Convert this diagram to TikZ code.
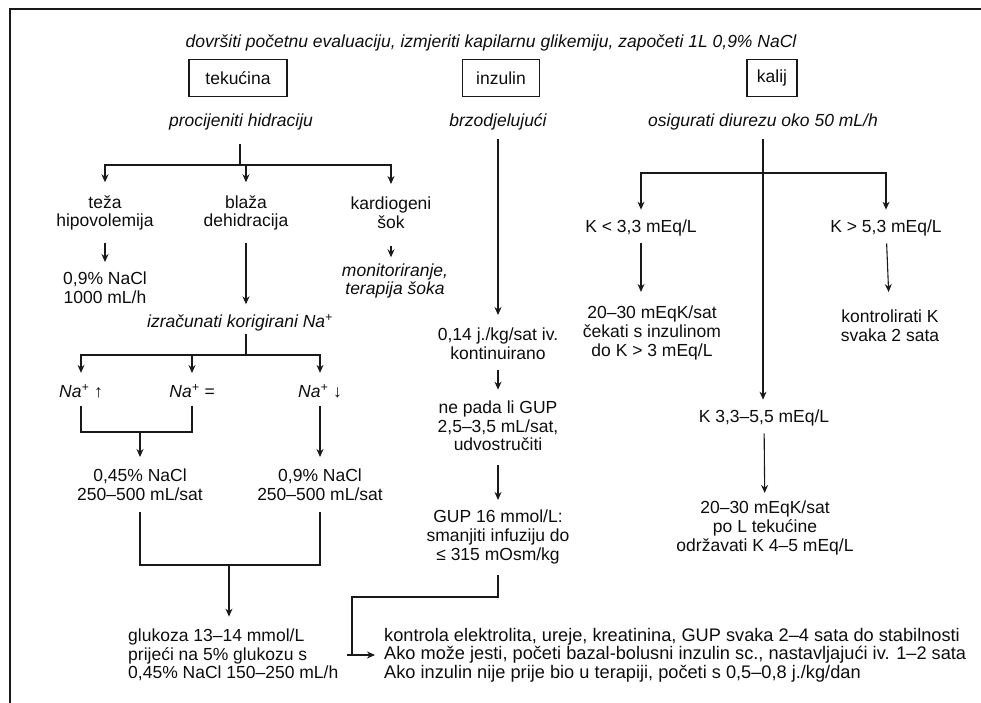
\documentclass[tikz,border=0pt]{standalone}
\usepackage{fontspec}
\setmainfont{Liberation Sans}
\usetikzlibrary{arrows.meta}

\begin{document}
\begin{tikzpicture}[x=1pt,y=-1pt,
  txt/.style={align=center,inner sep=0pt,text=black!95,font=\fontsize{17.5}{18.7}\selectfont},
  itxt/.style={txt,font=\fontsize{17.5}{18.7}\selectfont\itshape},
  box/.style={txt,draw=black!90,line width=1.5pt,minimum height=37pt},
  ln/.style={draw=black!90,line width=1.1pt},
  arr/.style={ln,-{Stealth[length=8pt,width=7pt]}}]
\useasboundingbox (0,0) rectangle (981,703);
\draw[ln] (10,703) -- (10,9) -- (981,9);

\node[itxt] (title) at (491,43) {dovršiti početnu evaluaciju, izmjeriti kapilarnu glikemiju, započeti 1L 0,9\% NaCl};
\node[box,minimum width=98pt] (tek) at (238,78) {tekućina};
\node[box,minimum width=77pt] (inz) at (501,78) {inzulin};
\node[box,minimum width=50pt] (kal) at (772,78) {kalij};
\node[itxt] (hidr) at (241,122) {procijeniti hidraciju};
\node[itxt] (brzo) at (498,122) {brzodjelujući};
\node[itxt] (diur) at (763,122) {osigurati diurezu oko 50 mL/h};

\node[txt] (teza) at (105,213) {teža\\hipovolemija};
\node[txt] (blaza) at (246,213) {blaža\\dehidracija};
\node[txt] (kard) at (391,213) {kardiogeni\\šok};
\node[txt] (fiz) at (105,288) {0,9\% NaCl\\1000 mL/h};
\node[itxt] (monit) at (395,281) {monitoriranje,\\terapija šoka};
\node[itxt] (korNa) at (240,323) {izračunati korigirani Na\textsuperscript{+}};
\node[itxt] (naU) at (81,391) {Na\textsuperscript{+} {\upshape ↑}};
\node[itxt] (naE) at (192,391) {Na\textsuperscript{+} =};
\node[itxt] (naD) at (320,391) {Na\textsuperscript{+} {\upshape ↓}};
\node[txt] (hipo) at (140,485) {0,45\% NaCl\\250–500 mL/sat};
\node[txt] (izo) at (320,485) {0,9\% NaCl\\250–500 mL/sat};
\node[txt,anchor=west,align=left] (gluk) at (128,655) {glukoza 13–14 mmol/L\\prijeći na 5\% glukozu s\\0,45\% NaCl 150–250 mL/h};

\node[txt] (kont) at (498,344) {0,14 j./kg/sat iv.\\kontinuirano};
\node[txt] (pada) at (498,426) {ne pada li GUP\\2,5–3,5 mL/sat,\\udvostručiti};
\node[txt] (gup) at (498,537) {GUP 16 mmol/L:\\smanjiti infuziju do\\≤ 315 mOsm/kg};

\node[txt] (kLo) at (641,228) {K < 3,3 mEq/L};
\node[txt] (kHi) at (886,228) {K > 5,3 mEq/L};
\node[txt] (kLoR) at (652,333) {20–30 mEqK/sat\\čekati s inzulinom\\do K > 3 mEq/L};
\node[txt] (kHiR) at (890,326) {kontrolirati K\\svaka 2 sata};
\node[txt] (kMid) at (764,418) {K 3,3–5,5 mEq/L};
\node[txt] (kMidR) at (765,528) {20–30 mEqK/sat\\po L tekućine\\održavati K 4–5 mEq/L};

\node[txt,anchor=west,align=left,font=\fontsize{18.2}{18.7}\selectfont] (ctrl) at (384,655) {kontrola elektrolita, ureje, kreatinina, GUP svaka 2–4 sata do stabilnosti\\Ako može jesti, početi bazal-bolusni inzulin sc., nastavljajući iv. 1–2 sata\\Ako inzulin nije prije bio u terapiji, početi s 0,5–0,8 j./kg/dan};

\coordinate (hs) at (240,165);
\coordinate (ns) at (246,355);
\coordinate (brk) at (140,432);
\coordinate (gj) at (229,565);
\coordinate (jn) at (352,597);
\coordinate (ks) at (763,173);

\draw[ln,shorten <=14pt] (hs |- hidr.south) -- (hs);
\draw[arr,shorten >=13pt] (hs) -| (teza);
\draw[arr,shorten >=13pt] (hs) -| (blaza);
\draw[arr,shorten >=13pt] (hs) -| (kard);
\draw[arr,shorten <=12pt,shorten >=10pt] (teza) -- (fiz);
\draw[arr,shorten <=12pt,shorten >=10pt] (blaza) -- (blaza |- korNa.north);
\draw[arr,shorten <=17pt,shorten >=6pt] (kard) -- (kard |- monit.north);
\draw[ln,shorten <=2pt] (ns |- korNa.south) -- (ns);
\draw[arr,shorten >=11pt] (ns) -| (naU);
\draw[arr,shorten >=11pt] (ns) -| (naE);
\draw[arr,shorten >=11pt] (ns) -| (naD);
\draw[ln,shorten <=8pt] (naU) |- (brk);
\draw[ln,shorten <=8pt] (naE) |- (brk);
\draw[arr,shorten >=12pt] (brk) -- (brk |- hipo.north);
\draw[arr,shorten <=8pt,shorten >=12pt] (naD) -- (izo);
\draw[ln,shorten <=11pt] (hipo) |- (gj);
\draw[ln,shorten <=11pt] (izo) |- (gj);
\draw[arr,shorten >=12pt] (gj) -- (gj |- gluk.north);
\draw[arr,shorten <=8pt,shorten >=9pt] (gluk) -- (ctrl);

\draw[arr,shorten <=9pt,shorten >=13pt] (brzo) -- (kont);
\draw[arr,shorten <=10pt,shorten >=11pt] (kont) -- (pada);
\draw[arr,shorten <=14pt,shorten >=10pt] (pada) -- (gup);
\draw[ln,shorten <=11pt] (gup) |- (jn) -- (jn |- gluk.east);

\draw[arr,shorten <=9pt,shorten >=10pt] (diur) -- (diur |- kMid.north);
\draw[arr,shorten >=10pt] (ks) -| (kLo);
\draw[arr,shorten >=10pt] (ks) -| (kHi);
\draw[arr,shorten <=7pt,shorten >=14pt] (kLo) -- (kLo |- kLoR.north);
\draw[arr,shorten <=7pt,shorten >=18pt] (kHi) -- (kHiR);
\draw[arr,shorten <=7pt,shorten >=8pt] (kMid) -- (kMidR);
\end{tikzpicture}
\end{document}
